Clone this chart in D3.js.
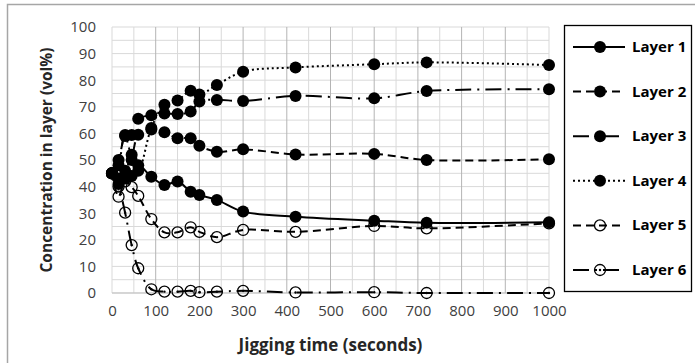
<!DOCTYPE html>
<html>
<head>
<meta charset="utf-8">
<script src="https://cdn.jsdelivr.net/npm/d3@7"></script>
<style>
  body { margin: 0; background: #fff; }
  svg { display: block; font-family: "Open Sans", "Noto Sans", sans-serif; }
</style>
</head>
<body>
<div id="chart"></div>
<script>
// jigging times (seconds)
const times = [0, 15, 30, 45, 60, 90, 120, 150, 180, 200, 240, 300, 420, 600, 720, 1000];

// concentration in each layer (vol%)
const layer1 = [45, 41, 43, 44, 48, 43.7, 40.6, 41.9, 38.1, 36.8, 35, 30.6, 28.7, 27.2, 26.4, 26.6];
const layer2 = [45, 50, 59, 52, 59.5, 61.5, 60.4, 58.2, 58.2, 55.4, 53.1, 54, 52.1, 52.3, 50, 50.3];
const layer3 = [45, 48, 59.4, 59.4, 65.5, 66.8, 67.5, 67.3, 68.2, 72, 72.6, 72.2, 74.1, 73.2, 75.9, 76.6];
const layer4 = [45, 43, 46, 50, 46, 62, 70.8, 72.4, 76, 74.6, 78.2, 83.2, 84.8, 86, 86.7, 85.7];
const layer5 = [45, 36.2, 42, 39.8, 36.5, 27.8, 22.8, 22.8, 24.7, 23, 21, 23.7, 23, 25.2, 24.3, 26.2];
const layer6 = [45, 40, 30.2, 18, 9.3, 1.4, 0.5, 0.5, 0.8, 0.3, 0.5, 0.8, 0.2, 0.3, 0, 0];

const layerNames = ['Layer 1', 'Layer 2', 'Layer 3', 'Layer 4', 'Layer 5', 'Layer 6'];
const xTicks = [0, 100, 200, 300, 400, 500, 600, 700, 800, 900, 1000];
const yTicks = [0, 10, 20, 30, 40, 50, 60, 70, 80, 90, 100];

const width = 695, height = 363;

const svg = d3.select('#chart').append('svg')
    .attr('width', width)
    .attr('height', height);

// outer chart frame
svg.append('rect')
    .attr('x', 7.5).attr('y', 4.5)
    .attr('width', 720).attr('height', 380)
    .attr('fill', 'none')
    .attr('stroke', '#a6a6a6')
    .attr('stroke-width', 1.5);

const x = d3.scaleLinear().domain([0, 1000]).range([112, 549]);
const y = d3.scaleLinear().domain([0, 100]).range([293, 27]);

// gridlines
const grid = svg.append('g');
grid.selectAll('.hgrid')
    .data(d3.range(0, 101, 5))
    .join('line')
    .attr('x1', x(0)).attr('x2', x(1000))
    .attr('y1', d => y(d)).attr('y2', d => y(d))
    .attr('stroke', '#d9d9d9')
    .attr('stroke-width', 1);
grid.selectAll('.vgrid')
    .data(d3.range(0, 1001, 50))
    .join('line')
    .attr('x1', d => x(d)).attr('x2', d => x(d))
    .attr('y1', y(0)).attr('y2', y(100))
    .attr('stroke', d => (d % 100 === 0 && d > 0 && d < 1000) ? '#b4b4b4' : '#d9d9d9')
    .attr('stroke-width', 1);
grid.append('line')
    .attr('x1', x(0)).attr('x2', x(1000))
    .attr('y1', y(0)).attr('y2', y(0))
    .attr('stroke', '#bfbfbf');

// axes (labels only, lines come from the grid)
const xAxis = svg.append('g')
    .attr('transform', `translate(0,${y(0)})`)
    .call(d3.axisBottom(x).tickValues(xTicks).tickFormat(d3.format('d')).tickSize(0).tickPadding(12));
const yAxis = svg.append('g')
    .attr('transform', `translate(${x(0)},0)`)
    .call(d3.axisLeft(y).tickValues(yTicks).tickFormat(d3.format('d')).tickSize(0).tickPadding(16));
[xAxis, yAxis].forEach(a => {
    a.select('.domain').remove();
    a.selectAll('text')
        .attr('fill', '#404040')
        .style('font-size', '15px')
        .style('font-family', '"Open Sans", sans-serif');
});

// axis titles
svg.append('text')
    .attr('x', (x(0) + x(1000)) / 2)
    .attr('y', 351)
    .attr('text-anchor', 'middle')
    .attr('font-size', 17)
    .attr('font-weight', 'bold')
    .attr('fill', '#262626')
    .text('Jigging time (seconds)');
svg.append('text')
    .attr('transform', `translate(52,${(y(0) + y(100)) / 2}) rotate(-90)`)
    .attr('text-anchor', 'middle')
    .attr('font-size', 15.5)
    .attr('font-weight', 'bold')
    .attr('fill', '#262626')
    .text('Concentration in layer (vol%)');

// series styles
const styles = [
    { dash: null, marker: 'filled' },
    { dash: '8,5', marker: 'filled' },
    { dash: '16,6,2,6', marker: 'filled' },
    { dash: '2,3', marker: 'filled' },
    { dash: '8,5', marker: 'open' },
    { dash: '16,6,2,6', marker: 'dotted' }
];

const allLayers = [layer1, layer2, layer3, layer4, layer5, layer6];

const line = d3.line()
    .x(d => x(d[0]))
    .y(d => y(d[1]))
    .curve(d3.curveCatmullRom.alpha(0.5));

function drawMarker(g, cx, cy, kind, r) {
    if (kind === 'filled') {
        g.append('circle').attr('cx', cx).attr('cy', cy).attr('r', r)
            .attr('fill', '#000');
    } else {
        g.append('circle').attr('cx', cx).attr('cy', cy).attr('r', r - 0.5)
            .attr('fill', 'none').attr('stroke', '#000').attr('stroke-width', 1.3);
        if (kind === 'dotted') {
            g.append('circle').attr('cx', cx).attr('cy', cy).attr('r', 1.2)
                .attr('fill', '#000');
        }
    }
}

allLayers.forEach((vals, i) => {
    const pts = times.map((t, j) => [t, vals[j]]);
    const g = svg.append('g');
    g.append('path')
        .attr('d', line(pts))
        .attr('fill', 'none')
        .attr('stroke', '#000')
        .attr('stroke-width', 2)
        .attr('stroke-dasharray', styles[i].dash);
    pts.forEach(p => drawMarker(g, x(p[0]), y(p[1]), styles[i].marker, 6));
});

// legend
const legend = svg.append('g');
legend.append('rect')
    .attr('x', 564.5).attr('y', 25.5)
    .attr('width', 127).attr('height', 266)
    .attr('fill', '#fff')
    .attr('stroke', '#000')
    .attr('stroke-width', 1.3);

layerNames.forEach((name, i) => {
    const ly = 47 + i * 44.6;
    const g = legend.append('g');
    g.append('line')
        .attr('x1', 573).attr('x2', 625)
        .attr('y1', ly).attr('y2', ly)
        .attr('stroke', '#000')
        .attr('stroke-width', 2)
        .attr('stroke-dasharray', styles[i].dash);
    drawMarker(g, 600, ly, styles[i].marker, 6);
    g.append('text')
        .attr('x', 632)
        .attr('y', ly + 5)
        .attr('font-size', 15)
        .attr('font-weight', 'bold')
        .attr('fill', '#000')
        .text(name);
});
</script>
</body>
</html>
